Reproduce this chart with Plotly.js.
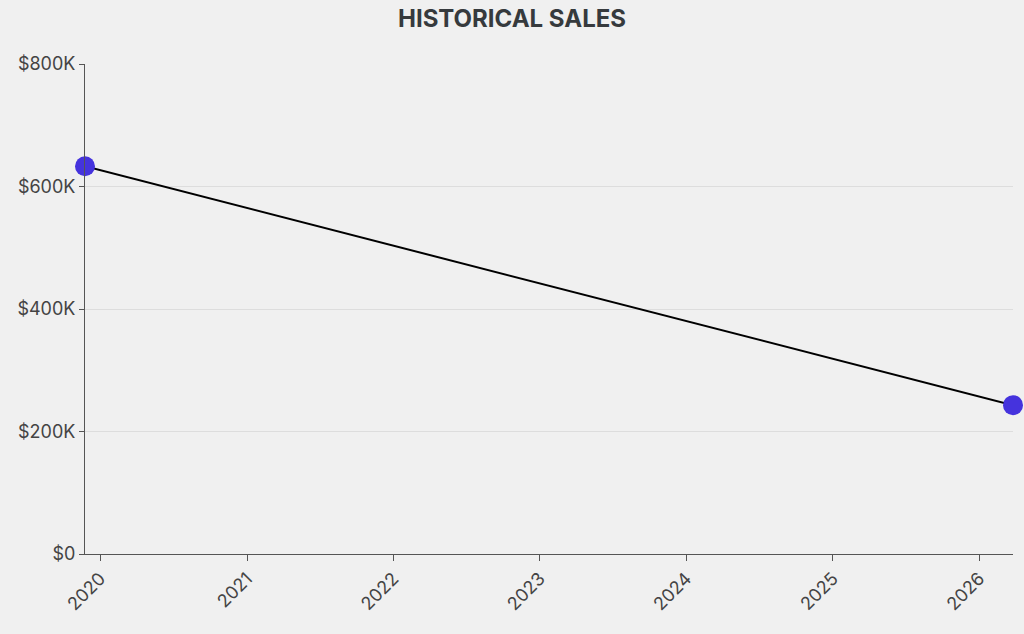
<!DOCTYPE html>
<html>
<head>
<meta charset="utf-8">
<script src="https://cdn.plot.ly/plotly-3.0.1.min.js"></script>
<style>html,body{margin:0;padding:0;background:#f0f0f0;}#chart{width:1024px;height:634px;}</style>
</head>
<body>
<div id="chart"></div>
<script>
const dates = ["2019-11-24", "2026-03-26"];
const sales = [633000, 243000];
const chartTitle = "HISTORICAL SALES";

const trace = {
  x: dates,
  y: sales,
  type: "scatter",
  mode: "lines+markers",
  line: {color: "#000000", width: 2},
  marker: {color: "#4533dd", size: 20},
  cliponaxis: false,
  hoverinfo: "x+y"
};

const layout = {
  width: 1024,
  height: 634,
  paper_bgcolor: "#f0f0f0",
  plot_bgcolor: "#f0f0f0",
  font: {family: "Inter, sans-serif", size: 18, color: "#444"},
  title: {text: "<b>" + chartTitle + "</b>", x: 0.5, xanchor: "center", y: 0.971, yanchor: "middle",
          font: {family: "Inter, sans-serif", size: 24, color: "#363a3d"}},
  margin: {l: 85, r: 11, t: 64, b: 80},
  showlegend: false,
  xaxis: {
    type: "date",
    range: [dates[0], dates[1]],
    tickformat: "%Y",
    dtick: "M12",
    tick0: "2020-01-01",
    tickangle: -45,
    showgrid: false,
    showline: true,
    linecolor: "#555",
    linewidth: 1,
    ticks: "outside",
    ticklen: 6,
    tickcolor: "#555",
    zeroline: false
  },
  yaxis: {
    range: [0, 800000],
    tickvals: [0, 200000, 400000, 600000, 800000],
    ticktext: ["$0", "$200K", "$400K", "$600K", "$800K"],
    showgrid: true,
    gridcolor: "#dddddd",
    showline: true,
    linecolor: "#555",
    linewidth: 1,
    ticks: "outside",
    ticklen: 5,
    tickcolor: "#555",
    zeroline: false
  }
};

Plotly.newPlot("chart", [trace], layout, {displayModeBar: false});
</script>
</body>
</html>
